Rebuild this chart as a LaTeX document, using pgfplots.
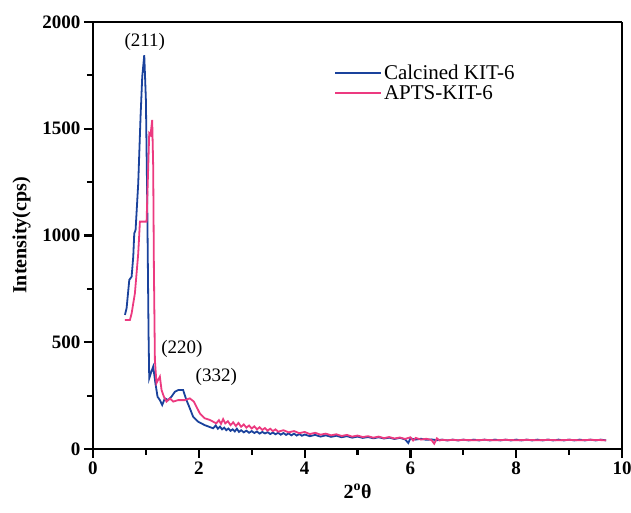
\documentclass[border=0pt]{standalone}
\usepackage{fontspec}
\setmainfont{Liberation Serif}
\usepackage{pgfplots}
\pgfplotsset{compat=1.18}

\definecolor{kitblue}{RGB}{26,66,156}
\definecolor{kitpink}{RGB}{236,58,128}

\begin{document}
\begin{tikzpicture}
\begin{axis}[
    name=main,
    scale only axis,
    width=529pt, height=427pt,
    xmin=0, xmax=10,
    ymin=0, ymax=2000,
    xtick={0,2,4,6,8,10},
    ytick={0,500,1000,1500,2000},
    minor x tick num=1,
    minor y tick num=1,
    tick align=outside,
    tick pos=left,
    major tick length=9pt,
    minor tick length=6pt,
    every tick/.style={black, line width=2.2pt},
    separate axis lines,
    axis line style={black, line width=2.6pt},
    /pgf/number format/assume math mode=true,
    /pgf/number format/1000 sep={},
    tick label style={font=\fontsize{19}{21}\selectfont\bfseries},
    xlabel={2\textsuperscript{o}θ},
    ylabel={Intensity(cps)},
    label style={font=\fontsize{20}{22}\selectfont\bfseries},
    xlabel style={yshift=-3pt},
    ylabel style={yshift=5pt},
    legend style={draw=none, fill=none, at={(0.45,0.91)}, anchor=north west,
        font=\fontsize{21}{24}\selectfont, row sep=1pt},
    legend cell align=left,
    legend image code/.code={\draw[#1] (0pt,0pt) -- (46pt,0pt);},
]

\addplot[color=kitblue, line width=1.8pt] coordinates {
    (0.604,628) (0.635,659) (0.686,792) (0.730,807) (0.761,901) (0.780,1010)
    (0.805,1026) (0.855,1244) (0.899,1557) (0.931,1744) (0.969,1845)
    (1.000,1635) (1.025,1166) (1.050,542) (1.063,331) (1.094,355) (1.138,386)
    (1.180,308) (1.220,245) (1.264,229) (1.308,206) (1.358,237) (1.421,229)
    (1.484,245) (1.547,268) (1.610,276) (1.704,276) (1.767,229) (1.830,191)
    (1.893,151) (1.987,128) (2.110,112) (2.270,97)
    (2.32,110) (2.36,95) (2.40,105) (2.44,92) (2.48,100) (2.52,88) (2.56,96)
    (2.60,85) (2.64,92) (2.68,82) (2.72,95) (2.76,80) (2.80,88) (2.85,78)
    (2.90,86) (2.95,76) (3.00,84) (3.05,75) (3.10,82) (3.15,72) (3.20,80)
    (3.25,73) (3.30,79) (3.35,70) (3.40,77) (3.45,69) (3.50,76) (3.55,67)
    (3.60,75) (3.65,66) (3.70,73) (3.75,64) (3.80,72) (3.85,63) (3.90,70)
    (3.95,62) (4.00,68) (4.10,60) (4.20,66) (4.30,58) (4.40,64) (4.50,57)
    (4.60,62) (4.70,55) (4.80,60) (4.90,53) (5.00,58) (5.10,52) (5.20,56)
    (5.30,50) (5.40,55) (5.50,49) (5.60,53) (5.70,47) (5.80,52) (5.90,45)
    (5.96,28) (6.00,50) (6.10,44) (6.20,48) (6.30,43) (6.40,45) (6.50,41)
    (6.60,44) (6.70,40) (6.80,44) (6.90,40) (7.00,44) (7.10,40) (7.20,44)
    (7.30,40) (7.40,44) (7.50,40) (7.60,44) (7.70,40) (7.80,44) (7.90,40)
    (8.00,44) (8.10,40) (8.20,44) (8.30,40) (8.40,44) (8.50,40) (8.60,44)
    (8.70,40) (8.80,44) (8.90,40) (9.00,44) (9.10,40) (9.20,44) (9.30,40)
    (9.40,44) (9.50,40) (9.60,44) (9.70,40)
};
\addlegendentry{Calcined KIT-6}

\addplot[color=kitpink, line width=1.8pt] coordinates {
    (0.604,604) (0.698,604) (0.730,635) (0.792,729) (0.855,916) (0.887,1065)
    (1.013,1065) (1.044,1322) (1.063,1479) (1.088,1471) (1.119,1541)
    (1.138,1322) (1.151,854) (1.170,417) (1.200,308) (1.230,323) (1.264,339)
    (1.296,276) (1.340,245) (1.390,222) (1.453,237) (1.516,222) (1.610,229)
    (1.736,229) (1.830,237) (1.906,222) (1.956,198) (2.019,167) (2.110,144)
    (2.210,136) (2.330,120)
    (2.38,135) (2.42,118) (2.46,140) (2.50,120) (2.55,130) (2.60,112)
    (2.65,125) (2.70,108) (2.75,122) (2.80,104) (2.85,115) (2.90,100)
    (2.95,110) (3.00,96) (3.05,106) (3.10,92) (3.15,102) (3.20,89) (3.25,98)
    (3.30,86) (3.35,95) (3.40,84) (3.45,92) (3.50,81) (3.60,88) (3.70,78)
    (3.80,84) (3.90,74) (4.00,80) (4.10,70) (4.20,76) (4.30,67) (4.40,72)
    (4.50,64) (4.60,69) (4.70,61) (4.80,66) (4.90,58) (5.00,63) (5.10,56)
    (5.20,60) (5.30,53) (5.40,58) (5.50,51) (5.60,56) (5.70,49) (5.80,54)
    (5.90,47) (6.00,55) (6.05,40) (6.10,52) (6.20,44) (6.30,48) (6.40,42)
    (6.45,25) (6.50,50) (6.55,40) (6.60,43) (6.70,41) (6.80,43) (6.90,41)
    (7.00,43) (7.20,41) (7.40,43) (7.60,41) (7.80,43) (8.00,41) (8.20,43)
    (8.40,41) (8.60,43) (8.80,41) (9.00,43) (9.20,41) (9.40,43) (9.70,41)
};
\addlegendentry{APTS-KIT-6}

\node[font=\fontsize{19}{21}\selectfont] at (axis cs:0.98,1905) {(211)};
\node[font=\fontsize{19}{21}\selectfont] at (axis cs:1.68,468) {(220)};
\node[font=\fontsize{19}{21}\selectfont] at (axis cs:2.33,338) {(332)};

\end{axis}
\pgfresetboundingbox
\path[use as bounding box] ([shift={(-93pt,-64pt)}]main.south west)
    rectangle ([shift={(9pt,22pt)}]main.north east);
\end{tikzpicture}
\end{document}
